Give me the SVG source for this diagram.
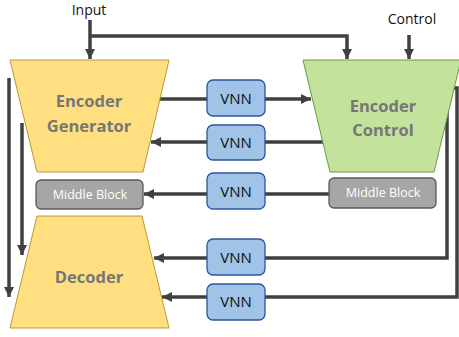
<svg xmlns="http://www.w3.org/2000/svg" width="459" height="337" viewBox="0 0 459 337">
<style>
.ln{fill:none;stroke:#404040;stroke-width:3.5}
.ar{marker-end:url(#ah)}
.yel{fill:#ffdf80;stroke:#b89a3a;stroke-width:1}
.grn{fill:#c3e29c;stroke:#6a9a48;stroke-width:1}
.vnn rect{fill:#9fc4e8;stroke:#2f5597;stroke-width:1.3}
.mid rect{fill:#a6a6a6;stroke:#5a5a5a;stroke-width:1.3}
.big{font-family:"Open Sans","Liberation Sans",sans-serif;font-weight:bold;font-size:16.5px;fill:#767676;text-anchor:middle}
.vt{font-family:"Open Sans","Liberation Sans",sans-serif;font-size:15px;fill:#111;text-anchor:middle}
.mt{font-family:"Open Sans","Liberation Sans",sans-serif;font-size:12.5px;fill:#fff;text-anchor:middle}
.lb{font-family:"Open Sans","Liberation Sans",sans-serif;font-size:14px;fill:#111;text-anchor:middle}
</style>
<defs>
<marker id="ah" markerUnits="userSpaceOnUse" markerWidth="11" markerHeight="11" refX="10" refY="5" orient="auto">
<path d="M0,0 L10,5 L0,10 z" fill="#404040"/>
</marker>
</defs>
<g id="connectors">
<path class="ln ar" d="M90,20 V59"/>
<path class="ln ar" d="M90,36 H347 V59"/>
<path class="ln ar" d="M409,35 V59"/>
<path class="ln" d="M155,99 H207"/>
<path class="ln ar" d="M265,99 H311"/>
<path class="ln ar" d="M207,142 H151"/>
<path class="ln" d="M265,142 H325"/>
<path class="ln ar" d="M207,194 H144"/>
<path class="ln" d="M265,194 H330"/>
<path class="ln" d="M440,108 H447 V258 H265"/>
<path class="ln ar" d="M207,258 H154"/>
<path class="ln" d="M440,88 H457 V297 H265"/>
<path class="ln ar" d="M207,297 H162"/>
<path class="ln ar" d="M9,78 V297"/>
<path class="ln ar" d="M22,123 V255"/>
</g>
<g id="input-label"><text class="lb" x="89" y="14.5">Input</text></g>
<g id="control-label"><text class="lb" x="412" y="24">Control</text></g>
<g id="encoder-generator">
<path class="yel" d="M10,60 H169 L143,172 H37 Z"/>
<text class="big" x="89" y="107">Encoder</text>
<text class="big" x="89" y="132">Generator</text>
</g>
<g id="encoder-control">
<path class="grn" d="M303,60 H461 L434,172 H330 Z"/>
<text class="big" x="383" y="112">Encoder</text>
<text class="big" x="383" y="136">Control</text>
</g>
<g id="middle-block-left" class="mid">
<rect x="36" y="180" width="107" height="29" rx="5"/>
<text class="mt" x="90" y="199">Middle Block</text>
</g>
<g id="middle-block-right" class="mid">
<rect x="329" y="178" width="107" height="30" rx="5"/>
<text class="mt" x="383" y="197">Middle Block</text>
</g>
<g id="decoder">
<path class="yel" d="M37,216 H142 L169,328 H10 Z"/>
<text class="big" x="89" y="283">Decoder</text>
</g>
<g id="vnn1" class="vnn"><rect x="207" y="80" width="58" height="36" rx="6"/><text class="vt" x="236" y="104">VNN</text></g>
<g id="vnn2" class="vnn"><rect x="207" y="125" width="58" height="35" rx="6"/><text class="vt" x="236" y="148">VNN</text></g>
<g id="vnn3" class="vnn"><rect x="207" y="173" width="58" height="36" rx="6"/><text class="vt" x="236" y="197">VNN</text></g>
<g id="vnn4" class="vnn"><rect x="207" y="239" width="58" height="36" rx="6"/><text class="vt" x="236" y="263">VNN</text></g>
<g id="vnn5" class="vnn"><rect x="207" y="284" width="58" height="36" rx="6"/><text class="vt" x="236" y="307">VNN</text></g>
</svg>
